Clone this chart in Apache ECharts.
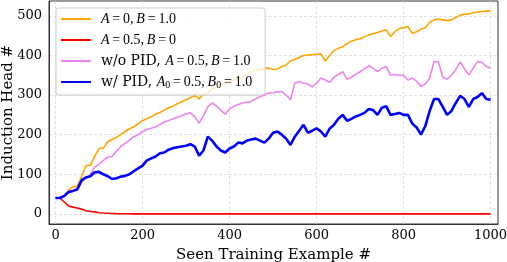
<!DOCTYPE html>
<html><head><meta charset="utf-8">
<script src="https://cdn.jsdelivr.net/npm/echarts@6/dist/echarts.min.js"></script>
<style>html,body{margin:0;padding:0;background:#fff}#c{width:507px;height:262px}</style>
</head><body><div id="c"></div>
<script>
const xSteps = [0,10,20,30,40,50,60,70,80,90,100,110,120,130,140,150,160,170,180,190,200,210,220,230,240,250,260,270,280,290,300,310,320,330,340,350,360,370,380,390,400,410,420,430,440,450,460,470,480,490,500,510,520,530,540,550,560,570,580,590,600,610,620,630,640,650,660,670,680,690,700,710,720,730,740,750,760,770,780,790,800,810,820,830,840,850,860,870,880,890,900,910,920,930,940,950,960,970,980,990,1000];
const orangeVals = [40,40,45,60,68,70,95,122,122,145,165,166,182,188,193,200,208,215,220,228,236,240,245,252,256,262,268,272,278,283,288,293,300,290,302,306,315,320,325,330,335,338,342,346,352,358,362,365,367,368,365,366,372,376,386,390,395,400,401,402,403,404,386,400,412,418,422,430,436,440,442,447,452,455,458,462,465,448,460,468,470,473,456,460,466,470,484,490,492,490,488,490,496,502,504,505,508,510,511,512,513];
const redVals = [40,40,30,20,17,15,12,8,6,5,3,2,1.5,1,0.5,0.3,0.2,0.1,0,0,0,0,0,0,0,0,0,0,0,0,0,0,0,0,0,0,0,0,0,0,0,0,0,0,0,0,0,0,0,0,0,0,0,0,0,0,0,0,0,0,0,0,0,0,0,0,0,0,0,0,0,0,0,0,0,0,0,0,0,0,0,0,0,0,0,0,0,0,0,0,0,0,0,0,0,0,0,0,0,0,0];
const violetVals = [40,40,45,55,58,60,80,90,100,118,125,135,143,145,158,170,178,186,195,200,208,213,216,220,226,232,236,240,244,248,252,255,245,229,248,270,280,272,262,252,265,272,276,280,282,284,290,296,300,305,306,308,309,300,288,330,334,330,328,321,330,343,338,332,345,352,359,340,345,352,359,366,374,368,359,368,372,350,352,350,350,338,343,335,322,328,343,385,384,345,340,350,364,384,366,351,368,385,383,372,368];
const blueVals = [40,40,45,55,58,62,85,92,95,105,106,100,95,88,90,94,96,100,108,115,122,135,140,145,153,155,162,166,168,170,172,176,170,147,160,195,185,170,160,155,165,170,180,178,185,188,190,185,180,190,205,208,200,190,174,195,210,225,205,210,216,208,195,215,225,240,250,235,240,246,250,255,265,262,250,268,272,250,252,255,250,250,228,218,200,222,260,290,290,270,250,260,280,298,290,270,290,295,305,290,288];
const xTicks = [0,200,400,600,800,1000];
const yTicks = [0,100,200,300,400,500];
const seriesNames = ['A=0, B=1.0','A=0.5, B=0','w/o PID, A=0.5, B=1.0','w/ PID, A0=0.5, B0=1.0'];
const EQ = '\u2009=\u2009', CM = ',\u2009';
const legendRich = {
  'A=0, B=1.0': '{i|A}{m|'+EQ+'0'+CM+'}{i|B}{m|'+EQ+'1.0}',
  'A=0.5, B=0': '{i|A}{m|'+EQ+'0.5'+CM+'}{i|B}{m|'+EQ+'0}',
  'w/o PID, A=0.5, B=1.0': '{n|w/o PID, }{i|A}{m|'+EQ+'0.5'+CM+'}{i|B}{m|'+EQ+'1.0}',
  'w/ PID, A0=0.5, B0=1.0': '{n|w/ PID, }{i|A}{s|0}{m|'+EQ+'0.5'+CM+'}{i|B}{s|0}{m|'+EQ+'1.0}'
};
const pairs = vals => xSteps.map((x,i)=>[x, vals[i]]);
const serif = 'DejaVu Serif';
const math = 'Liberation Serif';
const chart = echarts.init(document.getElementById('c'), null, {renderer:'canvas'});
const gridLine = {show:true, lineStyle:{color:'#d9d9d9', type:[3,2], width:0.8}};
chart.setOption({
  animation:false,
  backgroundColor:'#fff',
  grid:{left:49, right:9, top:1, bottom:38, containLabel:false, outerBoundsMode:'none', show:true, borderColor:'#333', borderWidth:1, backgroundColor:'transparent'},
  xAxis:{type:'value', min:-15, max:1017,
    name:'Seen Training Example #', nameLocation:'middle', nameGap:24,
    nameTextStyle:{fontFamily:serif, fontSize:15, color:'#000'},
    axisLine:{show:true, onZero:false, lineStyle:{color:'#333'}},
    axisTick:{show:false, customValues:xTicks},
    axisLabel:{customValues:xTicks, formatter: v => String(v), fontFamily:serif, fontSize:13, color:'#000', margin:5},
    splitLine:gridLine},
  yAxis:{type:'value', min:-25.6, max:537.6,
    name:'Induction Head #', nameLocation:'middle', nameGap:33, nameMoveOverlap:false,
    nameTextStyle:{fontFamily:serif, fontSize:15, color:'#000'},
    axisLine:{show:true, onZero:false, lineStyle:{color:'#333'}},
    axisTick:{show:false, customValues:yTicks},
    axisLabel:{customValues:yTicks, formatter: v => String(v), fontFamily:serif, fontSize:13, color:'#000', margin:7},
    splitLine:gridLine},
  legend:{orient:'vertical', left:56, top:8, padding:[3,13,5,5], itemGap:5,
    itemWidth:30, itemHeight:2, icon:'rect',
    backgroundColor:'rgba(255,255,255,0.8)', borderColor:'#ccc', borderWidth:1, borderRadius:3,
    data:seriesNames,
    formatter: n => legendRich[n],
    textStyle:{fontFamily:serif, fontSize:14, color:'#000', padding:[0,0,0,5], lineHeight:16,
      rich:{
        n:{fontFamily:serif, fontSize:14, color:'#000', lineHeight:16},
        m:{fontFamily:math, fontSize:14, color:'#000', lineHeight:16},
        i:{fontFamily:math, fontStyle:'italic', fontSize:14, color:'#000', lineHeight:16},
        s:{fontFamily:math, fontSize:10, color:'#000', verticalAlign:'bottom', lineHeight:16, padding:[5,0,0,0]}
      }}
  },
  series:[
    {name:seriesNames[0], type:'line', data:pairs(orangeVals), showSymbol:false, lineStyle:{color:'#FFA500', width:1.6}, itemStyle:{color:'#FFA500'}, z:3},
    {name:seriesNames[1], type:'line', data:pairs(redVals), showSymbol:false, lineStyle:{color:'#FF0000', width:1.6}, itemStyle:{color:'#FF0000'}, z:3},
    {name:seriesNames[2], type:'line', data:pairs(violetVals), showSymbol:false, lineStyle:{color:'#EE82EE', width:1.6}, itemStyle:{color:'#EE82EE'}, z:3},
    {name:seriesNames[3], type:'line', data:pairs(blueVals), showSymbol:false, lineStyle:{color:'#0000FF', width:2.6}, itemStyle:{color:'#0000FF'}, z:4}
  ]
});
</script></body></html>
